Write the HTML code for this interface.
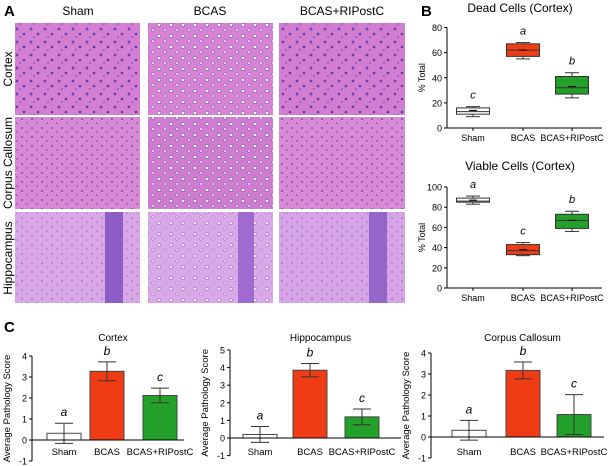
<!DOCTYPE html>
<html><head><meta charset="utf-8"><style>
body{margin:0;background:#fff;width:609px;height:466px;overflow:hidden;font-family:"Liberation Sans",sans-serif}
svg{display:block}
</style></head><body>
<svg id="fig" width="609" height="466" viewBox="0 0 609 466">
<defs>
<pattern id="pNuc" width="14" height="13" patternUnits="userSpaceOnUse">
<circle cx="3" cy="3" r="1.4" fill="#6a3fb0"/><circle cx="10" cy="8" r="1.3" fill="#5b3aa8"/><circle cx="6" cy="11" r="0.9" fill="#7a50c0"/>
</pattern>
<pattern id="pVac" width="12" height="11" patternUnits="userSpaceOnUse">
<ellipse cx="3" cy="3" rx="1.9" ry="1.5" fill="#fff" stroke="#7044aa" stroke-width="0.6"/><ellipse cx="9" cy="8" rx="1.5" ry="1.2" fill="#fbeefc" stroke="#7044aa" stroke-width="0.5"/>
</pattern>
<pattern id="pSm" width="10" height="9" patternUnits="userSpaceOnUse">
<circle cx="2" cy="2" r="0.9" fill="#5a3aa0"/><circle cx="7" cy="6" r="0.8" fill="#6e48b4"/>
</pattern>
</defs>
<g id="panelA">
<text x="4" y="16" font-size="15" font-weight="bold">A</text>
<text x="78" y="15" font-size="12" text-anchor="middle">Sham</text>
<text x="210" y="15" font-size="12" text-anchor="middle">BCAS</text>
<text x="342" y="15" font-size="12" text-anchor="middle">BCAS+RIPostC</text>
<text transform="translate(12,69) rotate(-90)" font-size="12" text-anchor="middle">Cortex</text>
<text transform="translate(12,163) rotate(-90)" font-size="12" text-anchor="middle">Corpus Callosum</text>
<text transform="translate(12,258) rotate(-90)" font-size="12" text-anchor="middle">Hippocampus</text>
<rect x="15" y="23" width="125" height="92" fill="#d47fd3"/>
<rect x="15" y="23" width="125" height="92" fill="url(#pNuc)"/>
<rect x="148" y="23" width="125" height="92" fill="#d683d5"/>
<rect x="148" y="23" width="125" height="92" fill="url(#pVac)"/>
<rect x="279" y="23" width="126" height="92" fill="#d27cd2"/>
<rect x="279" y="23" width="126" height="92" fill="url(#pNuc)"/>
<rect x="15" y="117" width="125" height="92" fill="#d889d6"/>
<rect x="15" y="117" width="125" height="92" fill="url(#pSm)"/>
<rect x="148" y="117" width="125" height="92" fill="#d07cd0"/>
<rect x="148" y="117" width="125" height="92" fill="url(#pVac)"/>
<rect x="279" y="117" width="126" height="92" fill="#d88ad6"/>
<rect x="279" y="117" width="126" height="92" fill="url(#pSm)"/>
<rect x="15" y="212" width="125" height="91" fill="#d9a6e6"/>
<rect x="15" y="212" width="125" height="91" fill="url(#pSm)" opacity="0.5"/>
<rect x="105" y="212" width="18" height="91" fill="#8d5cc4"/>
<rect x="148" y="212" width="125" height="91" fill="#dba8e8"/>
<rect x="148" y="212" width="125" height="91" fill="url(#pVac)" opacity="0.7"/>
<rect x="238" y="212" width="16" height="91" fill="#a06ad0"/>
<rect x="279" y="212" width="126" height="91" fill="#d6a4e6"/>
<rect x="279" y="212" width="126" height="91" fill="url(#pSm)" opacity="0.5"/>
<rect x="369" y="212" width="18" height="91" fill="#9466c8"/>
</g>
<g id="panelB">
<text x="421" y="16" font-size="15" font-weight="bold">B</text>
</g>
<g id="panelC">
<text x="4" y="332" font-size="15" font-weight="bold">C</text>
</g>
</svg>
<script>
const NS='http://www.w3.org/2000/svg';
function mk(parent,tag,attrs,text){const e=document.createElementNS(NS,tag);for(const k in attrs)e.setAttribute(k,attrs[k]);if(text!==undefined)e.textContent=text;parent.appendChild(e);return e;}
const groups=['Sham','BCAS','BCAS+RIPostC'];
const colors=['#ffffff','#f03c14','#22a02a'];
const deadBox=[[9,11,13,16,17],[55,57,62,67,68],[24,27,32,41,44]];
const deadMean=[14,62,33];
const deadLetters=['c','a','b'];
const deadTicks=[0,20,40,60,80];
const viableBox=[[83,85,86,89,91],[32,33,37,43,45],[56,59,67,73,76]];
const viableMean=[87,38,67];
const viableLetters=['a','c','b'];
const viableTicks=[0,20,40,60,80,100];
const cortexMean=[0.32,3.27,2.12];const cortexErr=[0.48,0.45,0.35];const cortexLetters=['a','b','c'];
const hippoMean=[0.2,3.85,1.2];const hippoErr=[0.45,0.38,0.45];const hippoLetters=['a','b','c'];
const ccMean=[0.32,3.17,1.07];const ccErr=[0.47,0.4,0.95];const ccLetters=['a','b','c'];
const cortexTicks=[-1,0,1,2,3,4];const hippoTicks=[-1,0,1,2,3,4,5];const ccTicks=[-1,0,1,2,3,4];

function boxChart(g,name,title,box,mean,letters,ticks,top,bottom,titleY){
  const ax=447,xEnd=602,centers=[473,523,572],bw=33;
  const maxT=ticks[ticks.length-1];
  const y=v=>bottom-(v/maxT)*(bottom-top);
  const t=mk(g,'text',{x:520,y:titleY,'font-size':12,'text-anchor':'middle'},title);
  
  
  const ya=mk(g,'line',{x1:ax,y1:top,x2:ax,y2:bottom,stroke:'#000','stroke-width':1});
  
  
  const xa=mk(g,'line',{x1:ax,y1:bottom,x2:xEnd,y2:bottom,stroke:'#000','stroke-width':1});
  
  
  ticks.forEach(v=>{mk(g,'line',{x1:ax-3,y1:y(v),x2:ax,y2:y(v),stroke:'#000'});
    const tl=mk(g,'text',{x:ax-5,y:y(v)+3.5,'font-size':9,'text-anchor':'end'},v);
    
    });
  const yl=mk(g,'text',{transform:`translate(${ax-22},${(top+bottom)/2}) rotate(-90)`,'font-size':9,'text-anchor':'middle'},'% Total');
  
  
  box.forEach((b,i)=>{const c=centers[i];
    mk(g,'line',{x1:c,y1:y(b[0]),x2:c,y2:y(b[4]),stroke:'#333'});
    mk(g,'line',{x1:c-7,y1:y(b[0]),x2:c+7,y2:y(b[0]),stroke:'#333'});
    mk(g,'line',{x1:c-7,y1:y(b[4]),x2:c+7,y2:y(b[4]),stroke:'#333'});
    const r=mk(g,'rect',{x:c-bw/2,y:y(b[3]),width:bw,height:y(b[1])-y(b[3]),fill:colors[i],stroke:'#333','stroke-width':1});
    
    
    mk(g,'line',{x1:c-bw/2,y1:y(b[2]),x2:c+bw/2,y2:y(b[2]),stroke:'#333'});
    mk(g,'line',{x1:c-4,y1:y(mean[i]),x2:c+4,y2:y(mean[i]),stroke:'#000'});
    const lt=mk(g,'text',{x:c,y:y(b[4])-8,'font-size':11,'font-style':'italic','text-anchor':'middle'},letters[i]);
    
    
    mk(g,'line',{x1:c,y1:bottom,x2:c,y2:bottom+3,stroke:'#000'});
    const xl=mk(g,'text',{x:c,y:bottom+13,'font-size':9,'text-anchor':'middle'},groups[i]);
    
    
  });
}
const gB=document.getElementById('panelB');
boxChart(gB,'dead-cells','Dead Cells (Cortex)',deadBox,deadMean,deadLetters,deadTicks,27.5,128,12);
boxChart(gB,'viable-cells','Viable Cells (Cortex)',viableBox,viableMean,viableLetters,viableTicks,187,288,170);

function barChart(g,name,title,means,errs,letters,ticks,ax,xEnd,topY,zeroY,bars,bw){
  const maxT=ticks[ticks.length-1];
  const unit=(zeroY-topY)/maxT;
  const y=v=>zeroY-v*unit;
  const bot=y(ticks[0]);
  const t=mk(g,'text',{x:(ax+xEnd)/2+5,y:341,'font-size':10,'text-anchor':'middle'},title);
  
  
  const ya=mk(g,'line',{x1:ax,y1:topY,x2:ax,y2:bot,stroke:'#000'});
  
  
  ticks.forEach(v=>{mk(g,'line',{x1:ax-3,y1:y(v),x2:ax,y2:y(v),stroke:'#000'});
    const tl=mk(g,'text',{x:ax-5,y:y(v)+3.5,'font-size':9,'text-anchor':'end'},v);
    
    });
  const yl=mk(g,'text',{transform:`translate(${ax-22},${(topY+bot)/2}) rotate(-90)`,'font-size':9.5,'text-anchor':'middle'},'Average Pathology Score');
  
  
  means.forEach((m,i)=>{const x0=bars[i],c=x0+bw/2;
    const r=mk(g,'rect',{x:x0,y:y(m),width:bw,height:zeroY-y(m),fill:colors[i],stroke:'#444'});
    
    
    const hi=y(m+errs[i]),lo=y(m-errs[i]);
    mk(g,'line',{x1:c,y1:hi,x2:c,y2:lo,stroke:'#333'});
    mk(g,'line',{x1:c-9,y1:hi,x2:c+9,y2:hi,stroke:'#333'});
    mk(g,'line',{x1:c-9,y1:lo,x2:c+9,y2:lo,stroke:'#333'});
    const lt=mk(g,'text',{x:c,y:hi-7,'font-size':12,'font-style':'italic','text-anchor':'middle'},letters[i]);
    
    
    const xl=mk(g,'text',{x:c,y:455,'font-size':9.5,'text-anchor':'middle'},groups[i]);
    
    
  });
  const xa=mk(g,'line',{x1:ax,y1:zeroY,x2:xEnd,y2:zeroY,stroke:'#000'});
  
  
}
const gC=document.getElementById('panelC');
barChart(gC,'cortex','Cortex',cortexMean,cortexErr,cortexLetters,cortexTicks,32,184,356,440,[47,90,143],34);
barChart(gC,'hippocampus','Hippocampus',hippoMean,hippoErr,hippoLetters,hippoTicks,230,401,350,438,[243,293,345],34);
barChart(gC,'corpus-callosum','Corpus Callosum',ccMean,ccErr,ccLetters,ccTicks,431,604,353,437,[452,506,557],34);
</script>
</body></html>
